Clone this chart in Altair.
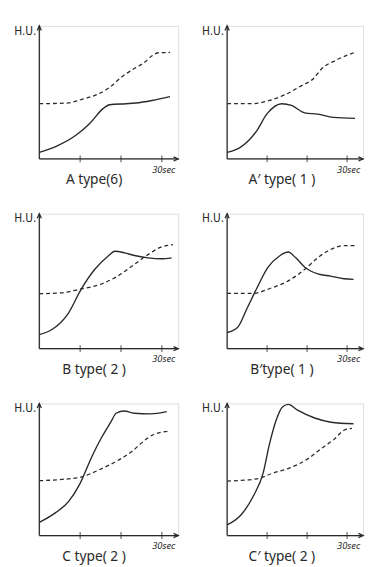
import altair as alt
import pandas as pd

INK = "#2a2a2a"
X_MAX = 34
Y_MAX = 100
TICKS = [10, 20, 30]

titles = ["A  type(6)", "A\u2032  type( 1 )", "B type( 2 )", "B\u2032type( 1 )", "C  type( 2 )", "C\u2032 type( 2 )"]

# A type(6)
a_solid_t = [0, 4.4, 9.2, 12.4, 15.6, 17.2, 21.2, 23.6, 27.6, 32]
a_solid_v = [4.9, 9.8, 18.3, 26.8, 37.8, 40.7, 41.5, 42, 43.9, 46.8]
a_dash_t = [0, 6.8, 10.8, 14.8, 17.2, 20.4, 22.8, 26, 27.6, 29.2, 32]
a_dash_v = [41.5, 42, 45.1, 49.3, 53.7, 62.2, 67.1, 73.2, 77.6, 79.8, 80]

# A' type(1)
ap_solid_t = [0, 3.2, 7.3, 10, 13.7, 16.1, 19.4, 22.6, 26.6, 32]
ap_solid_v = [4.9, 8.5, 20.7, 34, 41.5, 40.2, 34.6, 33.7, 31.2, 30.5]
ap_dash_t = [0, 6.5, 10.5, 14.5, 18.5, 21.8, 23.4, 27.4, 32.3]
ap_dash_v = [41.5, 41.5, 43.9, 48.3, 54.9, 61, 67, 74.4, 80.5]

# B type(2)
b_solid_t = [0, 3, 7.1, 10.3, 13.6, 16.8, 18.5, 20.9, 23.3, 26.6, 29.8, 32.4]
b_solid_v = [10.4, 14, 26.2, 44.3, 58.8, 68.5, 72.2, 71, 69, 67.3, 66.6, 67.3]
b_dash_t = [0, 5.4, 10.3, 15.2, 19.3, 23.3, 26.6, 29.8, 32.7]
b_dash_v = [40.7, 41.4, 44.3, 47.9, 54, 62.5, 69.7, 75.3, 77]

# B' type(1)
bp_solid_t = [0, 2.6, 5, 7.4, 10.2, 13.1, 15.3, 17.1, 19.5, 22.7, 25.9, 29.2, 31.6]
bp_solid_v = [12, 15.7, 30, 44.6, 60.2, 68.7, 71.6, 67.5, 60.2, 55.4, 53.7, 51.8, 51.3]
bp_dash_t = [0, 6.6, 10.7, 15.5, 19.5, 22.7, 25.9, 29.2, 32]
bp_dash_v = [41, 41, 44.6, 50.6, 59, 67.5, 73.5, 76.4, 76.4]

# C type(2)
c_solid_t = [0, 4, 7.2, 10, 12.8, 15.2, 17.6, 18.8, 20.8, 23.2, 27.2, 31.2]
c_solid_v = [9.9, 17.3, 25.9, 39.5, 59.3, 74, 86.4, 92.6, 94.3, 92.6, 92.1, 93.8]
c_dash_t = [0, 5.6, 10.4, 14.4, 19.2, 22.4, 25.6, 28, 32]
c_dash_v = [41.5, 42.5, 44.4, 49.4, 56.8, 63, 71.6, 76.5, 79]

# C' type(2)
cp_solid_t = [0, 3.4, 6.6, 9, 10.6, 12.3, 13.9, 15.3, 17.5, 21.9, 26, 31.6]
cp_solid_v = [8.1, 15.4, 30.1, 47.3, 69.4, 87.7, 97.5, 99.3, 95.1, 89, 85.8, 84.6]
cp_dash_t = [0, 7.4, 11.5, 15.5, 20.3, 23.5, 26.8, 29.2, 31.2]
cp_dash_v = [41.2, 42.9, 47.3, 51, 58.3, 65.7, 73, 79.7, 81.1]

UP = "M-0.45,1L0,0L0.45,1"
RIGHT = "M-1,-0.45L0,0L-1,0.45"
LABEL_FONT = "Liberation Sans Narrow, DejaVu Sans Condensed, Liberation Sans"
TITLE_FONT = "Noto Sans"


def panel(title, st, sv, dt, dv, w, h):
    xs = alt.Scale(domain=[0, X_MAX], nice=False, zero=False)
    ys = alt.Scale(domain=[0, Y_MAX], nice=False, zero=False)

    def X(f):
        return alt.X(f, type="quantitative", scale=xs, axis=None)

    def Y(f):
        return alt.Y(f, type="quantitative", scale=ys, axis=None)

    solid = alt.Chart(pd.DataFrame({"t": st, "v": sv})).mark_line(
        interpolate="monotone", color=INK, strokeWidth=1.4
    ).encode(x=X("t"), y=Y("v"))
    dashed = alt.Chart(pd.DataFrame({"t": dt, "v": dv})).mark_line(
        interpolate="monotone", color=INK, strokeWidth=1.3, strokeDash=[4, 3]
    ).encode(x=X("t"), y=Y("v"))
    xaxis = alt.Chart(pd.DataFrame({"a": [0], "b": [X_MAX], "c": [0]})).mark_rule(
        color=INK, strokeWidth=1.3
    ).encode(x=X("a"), x2="b", y=Y("c"))
    yaxis = alt.Chart(pd.DataFrame({"a": [0], "b": [0], "c": [Y_MAX]})).mark_rule(
        color=INK, strokeWidth=1.3
    ).encode(x=X("a"), y=Y("b"), y2="c")
    ticks = alt.Chart(pd.DataFrame({"t": TICKS, "v": [0] * len(TICKS)})).mark_tick(
        orient="vertical", size=7, thickness=1.2, color=INK
    ).encode(x=X("t"), y=Y("v"))
    up = alt.Chart(pd.DataFrame({"t": [0], "v": [Y_MAX]})).mark_point(
        shape=UP, size=90, filled=False, strokeWidth=1.3, color=INK, opacity=1
    ).encode(x=X("t"), y=Y("v"))
    right = alt.Chart(pd.DataFrame({"t": [X_MAX], "v": [0]})).mark_point(
        shape=RIGHT, size=90, filled=False, strokeWidth=1.3, color=INK, opacity=1
    ).encode(x=X("t"), y=Y("v"))
    hu = alt.Chart(pd.DataFrame({"s": ["H.U."]})).mark_text(
        align="right", baseline="middle", fontSize=12, font=LABEL_FONT, color=INK
    ).encode(x=alt.value(-3), y=alt.value(5), text="s:N")
    sec = alt.Chart(pd.DataFrame({"s": ["30sec"]})).mark_text(
        align="right", baseline="middle", fontSize=9.5, fontStyle="italic",
        font=TITLE_FONT, color=INK
    ).encode(x=alt.value(w - 3), y=alt.value(h + 11), text="s:N")
    ttl = alt.Chart(pd.DataFrame({"s": [title]})).mark_text(
        align="center", baseline="middle", fontSize=14, font=TITLE_FONT, color=INK
    ).encode(x=alt.value(56), y=alt.value(h + 22), text="s:N")
    return alt.layer(xaxis, yaxis, ticks, up, right, dashed, solid, hu, sec, ttl).properties(
        width=w, height=h
    )


panels = [
    panel(titles[0], a_solid_t, a_solid_v, a_dash_t, a_dash_v, 142, 136),
    panel(titles[1], ap_solid_t, ap_solid_v, ap_dash_t, ap_dash_v, 139, 136),
    panel(titles[2], b_solid_t, b_solid_v, b_dash_t, b_dash_v, 142, 138),
    panel(titles[3], bp_solid_t, bp_solid_v, bp_dash_t, bp_dash_v, 139, 138),
    panel(titles[4], c_solid_t, c_solid_v, c_dash_t, c_dash_v, 142, 135),
    panel(titles[5], cp_solid_t, cp_solid_v, cp_dash_t, cp_dash_v, 139, 135),
]

chart = alt.concat(
    *panels, columns=2, bounds="flush", spacing={"row": 56, "column": 50}
).properties(
    padding={"left": 5, "top": 8, "right": 0, "bottom": 0}
).configure_view(stroke=None).configure(background="white")

chart.save("out.html", embed_options={"renderer": "svg", "actions": False})
